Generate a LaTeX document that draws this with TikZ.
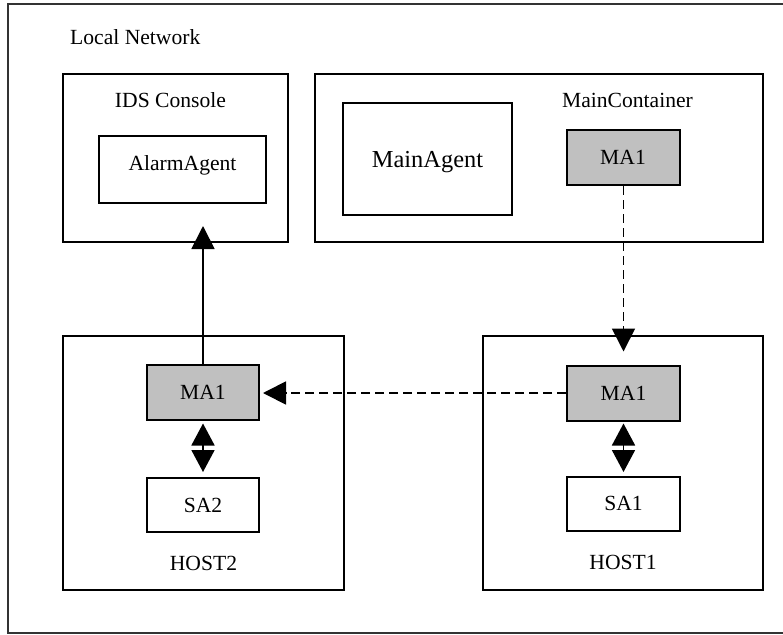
\documentclass[tikz,border=0pt]{standalone}
\usepackage{fontspec}
\setmainfont{Liberation Serif}
\usetikzlibrary{arrows.meta}
\definecolor{agentgray}{HTML}{C0C0C0}
\tikzset{
  box/.style={draw=black, line width=2pt, fill=white, inner sep=0pt, rectangle},
  grey/.style={box, fill=agentgray},
  txt/.style={inner sep=0pt, anchor=base, font=\fontsize{21.6}{26}\selectfont},
  bigtxt/.style={txt, font=\fontsize{24.4}{29}\selectfont},
  tip/.style={-{Triangle[length=23pt,width=23pt]}},
  conn/.style={line width=1.8pt, black},
  dashconn/.style={conn, dash pattern=on 9pt off 5pt},
}
\begin{document}
\begin{tikzpicture}[x=1pt,y=-1pt]
\useasboundingbox (0,0) rectangle (783,634);
\draw[line width=1.6pt, draw=black!80] (8,4) rectangle (790,633);
\node[txt, anchor=base west] (lnet) at (70,45) {Local Network};

% IDS Console
\node[box, minimum width=225pt, minimum height=168pt] (ids) at (175.5,158) {};
\node[txt] (idst) at (170.5,107) {IDS Console};
\node[box, minimum width=167pt, minimum height=67pt] (alarm) at (182.5,169.5) {};
\node[txt] (alarmt) at (182.5,170) {AlarmAgent};

% Main container
\node[box, minimum width=448pt, minimum height=168pt] (mc) at (539,158) {};
\node[txt] (mct) at (627.5,107) {MainContainer};
\node[box, minimum width=169pt, minimum height=112pt] (magent) at (427.5,159) {};
\node[bigtxt] (magentt) at (427.5,167) {MainAgent};
\node[grey, minimum width=113pt, minimum height=55pt] (ma1top) at (623.5,157.5) {};
\node[txt] (ma1topt) at (623,164) {MA1};

% HOST2
\node[box, minimum width=281pt, minimum height=254pt] (host2) at (203.5,463) {};
\node[txt] (host2t) at (203.5,570) {HOST2};
\node[grey, minimum width=112pt, minimum height=55pt] (ma1h2) at (203,392) {};
\node[txt] (ma1h2t) at (203,399) {MA1};
\node[box, minimum width=112pt, minimum height=54pt] (sa2) at (203,505) {};
\node[txt] (sa2t) at (203,512) {SA2};

% HOST1
\node[box, minimum width=280pt, minimum height=254pt] (host1) at (623,463) {};
\node[txt] (host1t) at (623,569) {HOST1};
\node[grey, minimum width=113pt, minimum height=55pt] (ma1h1) at (623.5,393) {};
\node[txt] (ma1h1t) at (623.5,400) {MA1};
\node[box, minimum width=113pt, minimum height=54pt] (sa1) at (623.5,504) {};
\node[txt] (sa1t) at (623.5,510) {SA1};

% connectors
\draw[conn, tip, shorten >=-17pt] (ma1h2.north) -- (ma1h2.north |- ids.south);
\draw[dashconn, tip, shorten >=13pt] (ma1top.south) -- (ma1h1.north);
\draw[dashconn, tip, shorten >=3pt] (ma1h1.west) -- (ma1h1.west -| ma1h2.east);
\draw[conn, {Triangle[length=22pt,width=23pt]}-{Triangle[length=22pt,width=23pt]}, shorten <=3pt, shorten >=5pt] (ma1h2.south) -- (sa2.north);
\draw[conn, {Triangle[length=22pt,width=23pt]}-{Triangle[length=22pt,width=23pt]}, shorten <=2pt, shorten >=4pt] (ma1h1.south) -- (sa1.north);
\end{tikzpicture}
\end{document}
